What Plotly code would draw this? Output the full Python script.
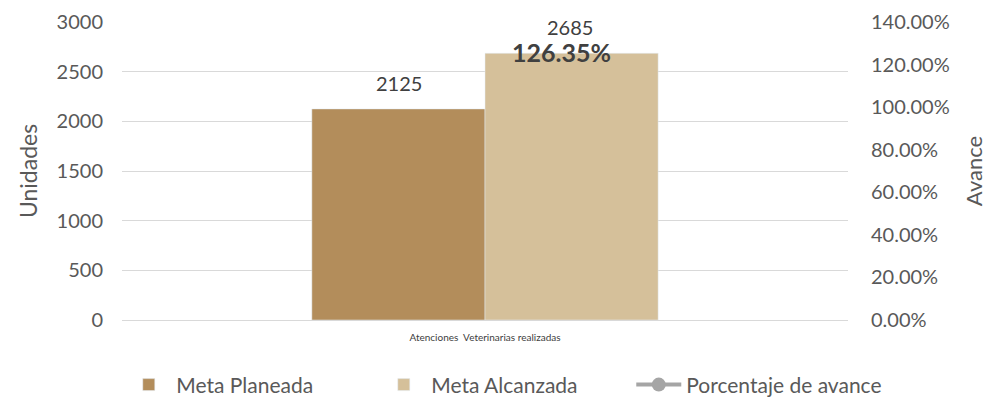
import plotly.graph_objects as go

categorias = ["Atenciones  Veterinarias realizadas"]
meta_planeada = [2125]
meta_alcanzada = [2685]
porcentaje_avance = [1.2635]

fuente = "Lato"
gris_texto = "#595959"

fig = go.Figure()

fig.add_trace(go.Bar(
    x=categorias, y=meta_planeada, name="Meta Planeada",
    marker_color="#b38d5b", offsetgroup="a",
))
fig.add_trace(go.Bar(
    x=categorias, y=meta_alcanzada, name="Meta Alcanzada",
    marker_color="#d5c09a", offsetgroup="b",
))
# linea de porcentaje (el punto no se ve en el original, solo su etiqueta)
fig.add_trace(go.Scatter(
    x=categorias, y=porcentaje_avance, name="Porcentaje de avance",
    yaxis="y2", mode="lines+markers",
    line=dict(color="#a5a5a5", width=4),
    marker=dict(color="#a5a5a5", size=12, opacity=0),
    showlegend=False, hoverinfo="skip",
))
fig.add_trace(go.Scatter(
    x=[None], y=[None], name="Porcentaje de avance", yaxis="y2",
    mode="lines+markers", line=dict(color="#a5a5a5", width=4),
    marker=dict(color="#a5a5a5", size=14),
))

# etiquetas de las barras
for cat, v1, v2 in zip(categorias, meta_planeada, meta_alcanzada):
    for val, dx in ((v1, -86), (v2, 85)):
        fig.add_annotation(
            x=cat, y=val, text=str(val), showarrow=False,
            yanchor="bottom", yshift=12, xshift=dx,
            font=dict(size=20, color="#404040", family=fuente),
        )

for cat, pct in zip(categorias, porcentaje_avance):
    fig.add_annotation(
        x=cat, y=pct, yref="y2", text=f"<b>{pct * 100:.2f}%</b>",
        showarrow=False, xshift=76, yshift=-1,
        font=dict(size=25, color="#404040", family=fuente),
    )

# la página añade 8 px de margen al cuerpo, por eso 985x393
fig.update_layout(
    width=985, height=393,
    margin=dict(l=114, r=145, t=14, b=81, autoexpand=False),
    paper_bgcolor="white", plot_bgcolor="white",
    font=dict(family=fuente, color=gris_texto, size=16),
    barmode="group", bargap=0.523, bargroupgap=0,
    xaxis=dict(
        showline=True, linecolor="#d9d9d9", linewidth=1,
        ticks="", tickfont=dict(size=10, color="#404040"),
        ticklabelstandoff=8, automargin=False,
    ),
    yaxis=dict(
        range=[0, 3000], dtick=500, showgrid=True, gridcolor="#d9d9d9",
        zeroline=False, ticks="", automargin=False, ticklabelstandoff=18,
        title=dict(text="Unidades", font=dict(size=23, color=gris_texto), standoff=12),
        tickfont=dict(size=20, color=gris_texto),
    ),
    yaxis2=dict(
        overlaying="y", side="right", range=[0, 1.4], dtick=0.2,
        tickformat=".2%", showgrid=False, zeroline=False,
        automargin=False, ticklabelstandoff=22,
        title=dict(text="Avance", font=dict(size=22, color=gris_texto), standoff=17),
        tickfont=dict(size=20, color=gris_texto),
    ),
    legend=dict(
        orientation="h", x=-0.001, xanchor="left",
        y=-0.218, yanchor="middle",
        font=dict(size=21, color=gris_texto), itemwidth=45,
        entrywidth=195, traceorder="normal",
    ),
)

fig.write_html("out.html")
